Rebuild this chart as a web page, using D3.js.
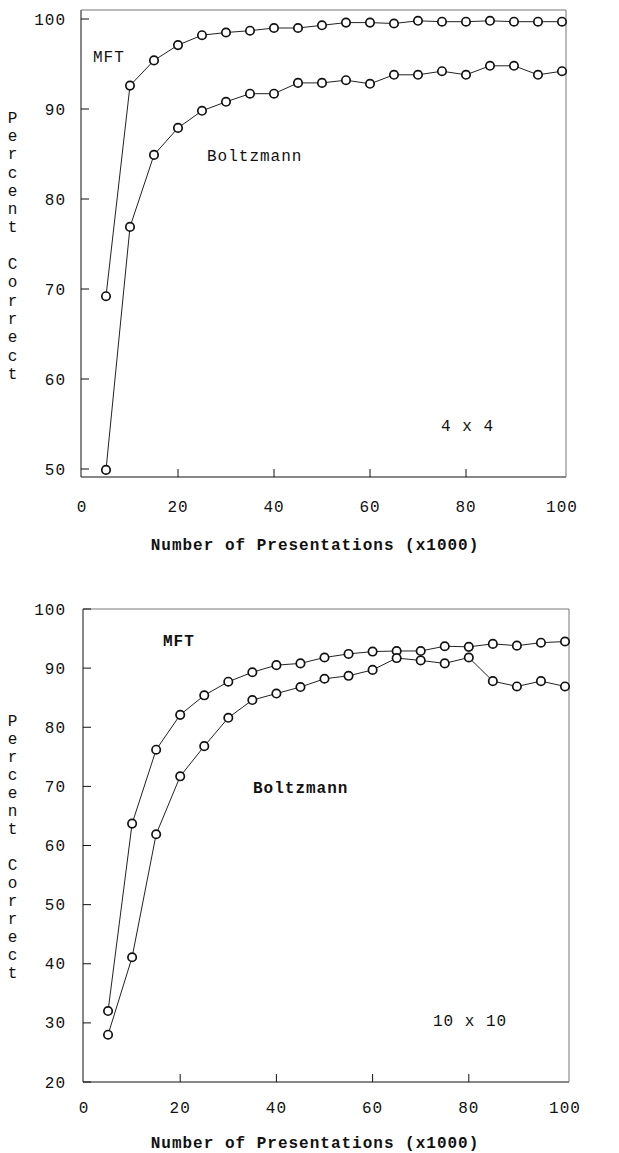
<html>
<meta charset="utf-8">
<head>
  <title>Percent correct vs presentations</title>
</head>
<style>
body { margin: 0; background: #fff; }
svg text { font-family: "Liberation Mono", "Courier New", monospace; font-size: 16px; letter-spacing: 1px; fill: #111; }
.frame-lo { stroke: #111; stroke-width: 1; fill: none; }
.frame-hi { stroke: #777; stroke-width: 1; fill: none; }
.curve { stroke: #222; stroke-width: 1; fill: none; }
.dot { stroke: #111; stroke-width: 1.7; fill: #fff; }
</style>
<body>
<svg width="619" height="1153"></svg>

<script src="https://d3js.org/d3.v7.min.js"></script>
<script>
// presentations (x1000)
var presentations = [5, 10, 15, 20, 25, 30, 35, 40, 45, 50, 55, 60, 65, 70, 75, 80, 85, 90, 95, 100]

// 4 x 4 network
var mft4   = [69.2, 92.6, 95.4, 97.1, 98.2, 98.5, 98.7, 99.0, 99.0, 99.3, 99.6, 99.6, 99.5, 99.8, 99.7, 99.7, 99.8, 99.7, 99.7, 99.7]
var boltz4 = [49.9, 76.9, 84.9, 87.9, 89.8, 90.8, 91.7, 91.7, 92.9, 92.9, 93.2, 92.8, 93.8, 93.8, 94.2, 93.8, 94.8, 94.8, 93.8, 94.2]

// 10 x 10 network
var mft10   = [32.0, 63.7, 76.2, 82.1, 85.4, 87.7, 89.3, 90.5, 90.8, 91.8, 92.4, 92.8, 92.9, 92.9, 93.7, 93.6, 94.1, 93.8, 94.3, 94.5]
var boltz10 = [28.0, 41.1, 61.9, 71.7, 76.8, 81.6, 84.6, 85.7, 86.8, 88.2, 88.7, 89.7, 91.7, 91.3, 90.8, 91.8, 87.8, 86.9, 87.8, 86.9]

var xTicks = [0, 20, 40, 60, 80, 100]
var yTicks4 = [50, 60, 70, 80, 90, 100]
var yTicks10 = [20, 30, 40, 50, 60, 70, 80, 90, 100]

var xTitle = 'Number of Presentations (x1000)'
var yTitle = 'Percent Correct'

var svg = d3.select('svg')

function panel(p) {
  var x = d3.scaleLinear().domain([0, 100]).range([p.x0, p.x1])
  var y = d3.scaleLinear().domain(p.yDomain).range([p.yBot, p.yTop])
  var g = svg.append('g')

  // frame: left & bottom darker, top & right faint
  g.append('path').attr('class', 'frame-lo')
    .attr('d', 'M' + p.fl + ',' + p.ft + 'V' + p.fb + 'H' + p.fr)
  g.append('path').attr('class', 'frame-hi')
    .attr('d', 'M' + p.fl + ',' + p.ft + 'H' + p.fr + 'V' + p.fb)

  // inward ticks
  g.selectAll('.yt').data(p.yTicks).enter().append('line')
    .attr('x1', p.fl).attr('x2', p.fl + 8)
    .attr('y1', function(d) { return y(d) }).attr('y2', function(d) { return y(d) })
    .attr('stroke', '#111')
  g.selectAll('.xt').data(xTicks.slice(1, -1)).enter().append('line')
    .attr('x1', function(d) { return x(d) }).attr('x2', function(d) { return x(d) })
    .attr('y1', p.fb).attr('y2', p.fb - 8)
    .attr('stroke', '#111')

  // tick labels
  g.selectAll('.yl').data(p.yTicks).enter().append('text')
    .attr('x', 66).attr('y', function(d) { return y(d) })
    .attr('dy', '0.35em').attr('text-anchor', 'end')
    .text(function(d) { return d })
  g.selectAll('.xl').data(xTicks).enter().append('text')
    .attr('x', function(d) { return x(d) }).attr('y', p.xLabY)
    .attr('dy', '0.35em').attr('text-anchor', 'middle')
    .text(function(d) { return d })

  // axis titles
  g.append('text').attr('x', 315).attr('y', p.xTitleY).attr('dy', '0.35em')
    .attr('text-anchor', 'middle').attr('font-weight', 'bold').text(xTitle)
  var letters = yTitle.split('')
  g.selectAll('.ylt').data(letters).enter().append('text')
    .attr('x', 13).attr('y', function(d, i) { return p.yTitleTop + i * p.yTitleStep })
    .attr('dy', '0.35em').attr('text-anchor', 'middle')
    .text(function(d) { return d })

  // curves
  var line = d3.line()
    .x(function(d, i) { return x(presentations[i]) })
    .y(function(d) { return y(d) })
  p.series.forEach(function(s) {
    g.append('path').datum(s).attr('class', 'curve').attr('d', line)
  })
  p.series.forEach(function(s) {
    g.selectAll(null).data(s).enter().append('circle')
      .attr('class', 'dot').attr('r', 4.2)
      .attr('cx', function(d, i) { return x(presentations[i]) })
      .attr('cy', function(d) { return y(d) })
  })

  // labels
  p.labels.forEach(function(l) {
    g.append('text').attr('x', l[1]).attr('y', l[2])
      .attr('font-weight', l[3] ? 'bold' : null).text(l[0])
  })
}

panel({
  x0: 82, x1: 562, yDomain: [50, 100], yBot: 469, yTop: 19,
  fl: 81, fr: 566, ft: 10, fb: 477,
  yTicks: yTicks4, xLabY: 506, xTitleY: 544,
  yTitleTop: 117, yTitleStep: 18.3,
  series: [mft4, boltz4],
  labels: [['MFT', 93, 62], ['Boltzmann', 207, 161], ['4 x 4', 441, 431]]
})

panel({
  x0: 84, x1: 565, yDomain: [20, 100], yBot: 1082, yTop: 609,
  fl: 83, fr: 569, ft: 609, fb: 1082,
  yTicks: yTicks10, xLabY: 1107, xTitleY: 1142,
  yTitleTop: 720, yTitleStep: 18,
  series: [mft10, boltz10],
  labels: [['MFT', 163, 646, true], ['Boltzmann', 253, 793, true], ['10 x 10', 433, 1026]]
})
</script>
</body>
</html>
